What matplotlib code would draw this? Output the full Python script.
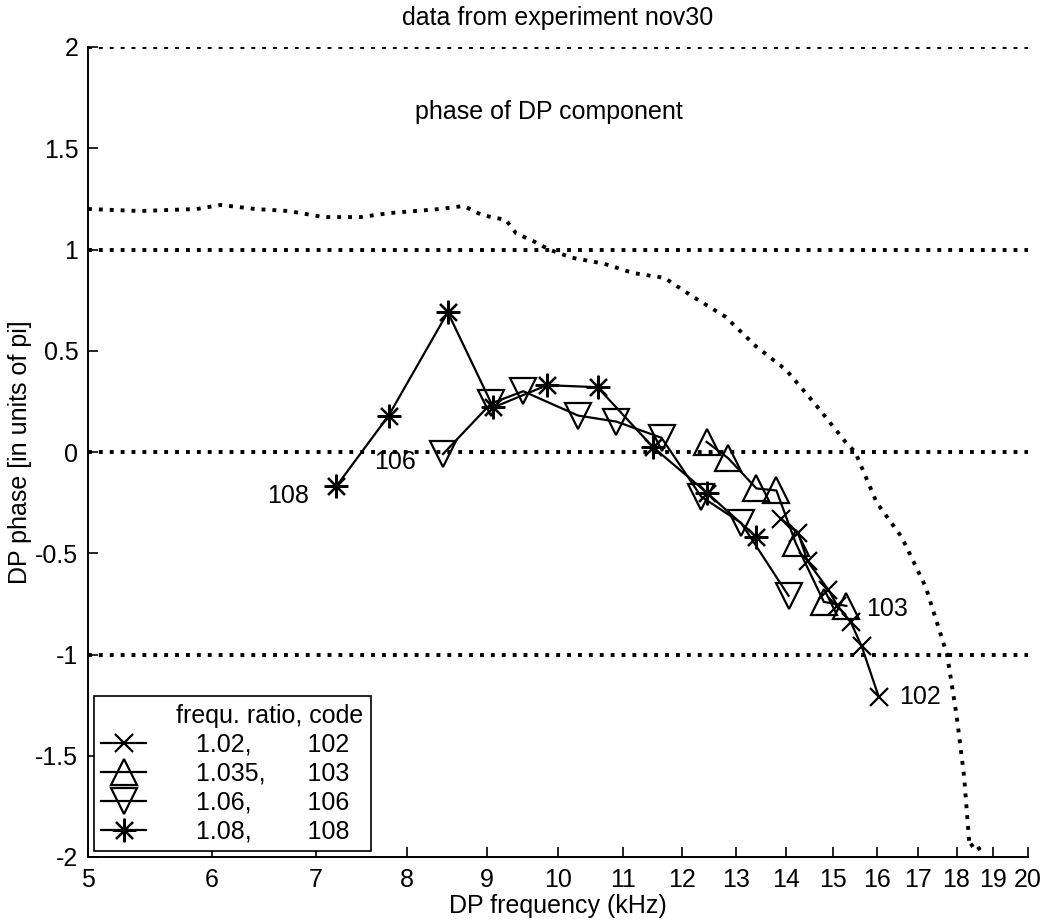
import numpy as np
import matplotlib
matplotlib.use('Agg')
import matplotlib.pyplot as plt
from matplotlib.ticker import FixedLocator, FixedFormatter, NullLocator

plt.rcParams['font.family'] = ['Liberation Sans', 'DejaVu Sans']
plt.rcParams['font.size'] = 18

# frequ. ratio 1.02, code 102
f102 = [13.9, 14.25, 14.45, 14.9, 15.1, 15.4, 15.65, 16.05]
p102 = [-0.33, -0.40, -0.54, -0.68, -0.76, -0.84, -0.96, -1.21]

# frequ. ratio 1.035, code 103
f103 = [12.45, 12.85, 13.4, 13.8, 14.2, 14.8, 15.3]
p103 = [0.05, -0.03, -0.18, -0.19, -0.45, -0.74, -0.76]

# frequ. ratio 1.06, code 106
f106 = [8.44, 9.06, 9.5, 10.3, 10.9, 11.65, 12.35, 13.1, 14.05]
p106 = [-0.01, 0.24, 0.30, 0.18, 0.15, 0.07, -0.22, -0.35, -0.71]

# frequ. ratio 1.08, code 108
f108 = [7.21, 7.79, 8.5, 9.09, 9.84, 10.6, 11.5, 12.45, 13.4]
p108 = [-0.17, 0.18, 0.69, 0.22, 0.33, 0.32, 0.025, -0.2, -0.42]

# dotted reference curve
fref = [5.0, 5.4, 5.87, 6.08, 6.4, 6.72, 7.08, 7.47, 7.8, 8.1, 8.4, 8.7, 8.94,
        9.26, 9.4, 9.65, 9.87, 10.2, 10.7, 11.17, 11.7, 12.2, 12.8, 13.4, 14.0,
        14.6, 15.3, 15.5, 16.0, 16.6, 17.2, 17.6, 17.75, 18.0, 18.2, 18.35,
        18.5, 18.65, 18.7]
pref = [1.20, 1.19, 1.20, 1.22, 1.20, 1.19, 1.16, 1.16, 1.18, 1.19, 1.20, 1.215,
        1.17, 1.146, 1.08, 1.04, 1.0, 0.96, 0.93, 0.884, 0.86, 0.767, 0.668,
        0.52, 0.405, 0.24, 0.044, 0.0, -0.25, -0.42, -0.667, -0.91, -1.0, -1.3,
        -1.6, -1.95, -1.93, -1.97, -2.0]

hlines = [2, 1, 0, -1]
xticks = [5, 6, 7, 8, 9, 10, 11, 12, 13, 14, 15, 16, 17, 18, 19, 20]
yticks = [-2, -1.5, -1, -0.5, 0, 0.5, 1, 1.5, 2]
ytick_labels = ['-2', '-1.5', '-1', '-0.5', '0', '0.5', '1', '1.5', '2']
labels = ['1.02,        102  ', '1.035,      103  ', '1.06,        106  ',
          '1.08,        108  ']

fig = plt.figure(figsize=(10.5, 9.24), dpi=100)
ax = fig.add_axes([88 / 1050, 1 - 857 / 924, 940 / 1050, 810 / 924])

dots = (0, (1, 1.8))
for h in hlines:
    ax.axhline(h, color='black', lw=2.8, linestyle=dots, dash_capstyle='butt')
ax.plot(fref, pref, color='black', lw=2.8, linestyle=dots, dash_capstyle='butt')

kw = dict(color='black', lw=1.6, mew=1.6, mfc='none')
l1, = ax.plot(f102, p102, marker='x', ms=13, **kw)
l2, = ax.plot(f103, p103, marker='^', ms=19, **kw)
l3, = ax.plot(f106, p106, marker='v', ms=19, **kw)
l4, = ax.plot(f108, p108, marker=(8, 2, 0), ms=17, **kw)

# curve codes
ax.annotate('108', (f108[0], p108[0]), xytext=(-48, -10), textcoords='offset pixels',
            ha='center', va='center')
ax.annotate('106', (f106[0], p106[0]), xytext=(-48, -8), textcoords='offset pixels',
            ha='center', va='center')
ax.annotate('103', (f103[-1], p103[-1]), xytext=(20, -3), textcoords='offset pixels',
            ha='left', va='center')
ax.annotate('102', (f102[-1], p102[-1]), xytext=(20, 0), textcoords='offset pixels',
            ha='left', va='center')

ax.text(0.49, 0.92, 'phase of DP component', transform=ax.transAxes,
        ha='center', va='center')
ax.text(0.5, 1 + 29 / 810, 'data from experiment nov30', transform=ax.transAxes,
        ha='center', va='center')

ax.set_xscale('log')
ax.set_xlim(5, 20)
ax.set_ylim(-2, 2)
ax.xaxis.set_major_locator(FixedLocator(xticks))
ax.xaxis.set_major_formatter(FixedFormatter([str(t) for t in xticks]))
ax.xaxis.set_minor_locator(NullLocator())
ax.set_yticks(yticks)
ax.set_yticklabels(ytick_labels)
ax.tick_params(direction='in', length=7, width=1.2, top=False, right=False)
ax.tick_params(axis='x', pad=8)
ax.tick_params(axis='y', pad=7)

for s in ['top', 'right']:
    ax.spines[s].set_visible(False)
for s in ['left', 'bottom']:
    ax.spines[s].set_linewidth(1.4)

ax.set_xlabel('DP frequency (kHz)', labelpad=1)
ax.set_ylabel('DP phase [in units of pi]', labelpad=2)

leg = ax.legend([l1, l2, l3, l4], labels, title='frequ. ratio, code',
                loc='lower left', bbox_to_anchor=(0.006, 0.007), borderaxespad=0,
                handlelength=1.8, handletextpad=2.0, labelspacing=0.2,
                fancybox=False, framealpha=1, edgecolor='black',
                borderpad=0.3, title_fontsize=18)
leg.get_frame().set_linewidth(1.2)
leg._legend_box.align = 'right'

fig.savefig('out.png', dpi=100)
